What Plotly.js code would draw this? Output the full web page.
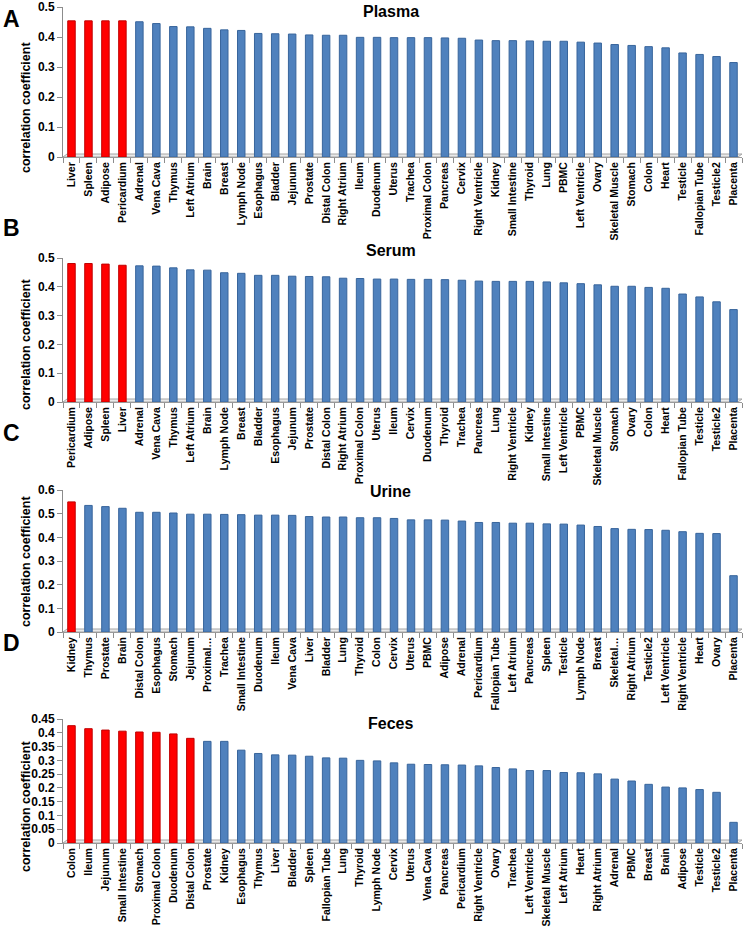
<!DOCTYPE html>
<html>
<head>
<meta charset="utf-8">
<script src="https://cdn.plot.ly/plotly-3.0.1.min.js"></script>
<style>
html,body{margin:0;padding:0;background:#fff;}
#chart{width:747px;height:937px;}
</style>
</head>
<body>
<div id="chart"></div>
<script>
// ---------- DATA ----------
const plasmaTissues = ["Liver","Spleen","Adipose","Pericardium","Adrenal","Vena Cava","Thymus","Left Atrium","Brain","Breast","Lymph Node","Esophagus","Bladder","Jejunum","Prostate","Distal Colon","Right Atrium","Ileum","Duodenum","Uterus","Trachea","Proximal Colon","Pancreas","Cervix","Right Ventricle","Kidney","Small Intestine","Thyroid","Lung","PBMC","Left Ventricle","Ovary","Skeletal Muscle","Stomach","Colon","Heart","Testicle","Fallopian Tube","Testicle2","Placenta"];
const plasmaValues = [0.454,0.454,0.454,0.454,0.451,0.445,0.435,0.434,0.429,0.424,0.422,0.412,0.411,0.410,0.407,0.406,0.406,0.399,0.399,0.398,0.398,0.398,0.397,0.396,0.390,0.388,0.388,0.387,0.386,0.386,0.383,0.380,0.375,0.372,0.368,0.364,0.347,0.342,0.335,0.315];
const plasmaHighlighted = 4;

const serumTissues = ["Pericardium","Adipose","Spleen","Liver","Adrenal","Vena Cava","Thymus","Left Atrium","Brain","Lymph Node","Breast","Bladder","Esophagus","Jejunum","Prostate","Distal Colon","Right Atrium","Proximal Colon","Uterus","Ileum","Cervix","Duodenum","Thyroid","Trachea","Pancreas","Lung","Right Ventricle","Kidney","Small Intestine","Left Ventricle","PBMC","Skeletal Muscle","Stomach","Ovary","Colon","Heart","Fallopian Tube","Testicle","Testicle2","Placenta"];
const serumValues = [0.481,0.481,0.479,0.475,0.473,0.472,0.466,0.459,0.458,0.449,0.447,0.440,0.440,0.437,0.436,0.435,0.430,0.429,0.427,0.427,0.426,0.426,0.425,0.423,0.420,0.419,0.419,0.419,0.417,0.414,0.411,0.407,0.402,0.402,0.398,0.395,0.375,0.365,0.348,0.321];
const serumHighlighted = 4;

const urineTissues = ["Kidney","Thymus","Prostate","Brain","Distal Colon","Esophagus","Stomach","Jejunum","Proximal\u2026","Trachea","Small Intestine","Duodenum","Ileum","Vena Cava","Liver","Bladder","Lung","Thyroid","Colon","Cervix","Uterus","PBMC","Adipose","Adrenal","Pericardium","Fallopian Tube","Left Atrium","Pancreas","Spleen","Testicle","Lymph Node","Breast","Skeletal\u2026","Right Atrium","Testicle2","Left Ventricle","Right Ventricle","Heart","Ovary","Placenta"];
const urineValues = [0.550,0.535,0.530,0.523,0.506,0.506,0.503,0.498,0.498,0.497,0.496,0.494,0.494,0.493,0.488,0.486,0.486,0.483,0.483,0.480,0.474,0.474,0.473,0.469,0.463,0.463,0.460,0.460,0.457,0.456,0.452,0.446,0.437,0.434,0.433,0.430,0.424,0.417,0.416,0.238];
const urineHighlighted = 1;

const fecesTissues = ["Colon","Ileum","Jejunum","Small Intestine","Stomach","Proximal Colon","Duodenum","Distal Colon","Prostate","Kidney","Esophagus","Thymus","Liver","Bladder","Spleen","Fallopian Tube","Lung","Thyroid","Lymph Node","Cervix","Uterus","Vena Cava","Pancreas","Pericardium","Right Ventricle","Ovary","Trachea","Left Ventricle","Skeletal Muscle","Left Atrium","Heart","Right Atrium","Adrenal","PBMC","Breast","Brain","Adipose","Testicle","Testicle2","Placenta"];
const fecesValues = [0.426,0.415,0.410,0.406,0.403,0.402,0.396,0.380,0.369,0.369,0.337,0.325,0.320,0.319,0.315,0.309,0.308,0.300,0.298,0.291,0.286,0.285,0.284,0.283,0.280,0.274,0.269,0.263,0.263,0.256,0.255,0.251,0.232,0.225,0.213,0.203,0.200,0.194,0.184,0.075];
const fecesHighlighted = 8;

const panelLetters = ["A","B","C","D"];
const panelTitles = ["Plasma","Serum","Urine","Feces"];
const yAxisTitle = "correlation coefficient";

// ---------- STYLE / LAYOUT ----------
const W = 747, H = 937;
const FONT = "Liberation Sans, Arial, Helvetica, sans-serif";
const RED = "#ff0000", RED_EDGE = "#c00000";
const BLUE = "#4f81bd", BLUE_EDGE = "#38659c";

const panels = [
  {names: plasmaTissues, vals: plasmaValues, hl: plasmaHighlighted, top: 7,   bottom: 157, max: 0.5,  dtick: 0.1,  letterY: 19,  titleY: 12,  ytitleY: 108},
  {names: serumTissues,  vals: serumValues,  hl: serumHighlighted,  top: 258, bottom: 402, max: 0.5,  dtick: 0.1,  letterY: 228, titleY: 251, ytitleY: 345},
  {names: urineTissues,  vals: urineValues,  hl: urineHighlighted,  top: 490, bottom: 632, max: 0.6,  dtick: 0.1,  letterY: 433, titleY: 492, ytitleY: 562},
  {names: fecesTissues,  vals: fecesValues,  hl: fecesHighlighted,  top: 719, bottom: 843, max: 0.45, dtick: 0.05, letterY: 643, titleY: 723, ytitleY: 807}
];

const xDomain = [63/W, 742/W];
const traces = [];
const layout = {
  width: W, height: H,
  margin: {l: 0, r: 0, t: 0, b: 0, autoexpand: false},
  paper_bgcolor: "#fff", plot_bgcolor: "rgba(0,0,0,0)",
  showlegend: false,
  font: {family: FONT, color: "#000"},
  bargap: 0.56,
  annotations: [], shapes: []
};

panels.forEach((p, i) => {
  const k = i === 0 ? "" : String(i + 1);
  const xa = "x" + k, ya = "y" + k;
  const colors = p.vals.map((v, j) => j < p.hl ? RED : BLUE);
  const edges = p.vals.map((v, j) => j < p.hl ? RED_EDGE : BLUE_EDGE);
  traces.push({
    type: "bar", x: p.names, y: p.vals, xaxis: xa, yaxis: ya,
    marker: {color: colors, line: {color: edges, width: 1}},
    hoverinfo: "x+y"
  });
  layout["xaxis" + k] = {
    domain: xDomain, anchor: ya, type: "category",
    range: [-0.5, p.names.length - 0.5],
    tickangle: -90, ticks: "outside", tickson: "boundaries", ticklen: 5,
    tickcolor: "#8c8c8c", tickwidth: 1,
    showline: true, linecolor: "#9a9a9a", linewidth: 1,
    showgrid: false, zeroline: false, fixedrange: true,
    tickfont: {family: FONT, size: 10.5, color: "#000", weight: 700},
    ticklabeloverflow: "allow",
    automargin: false
  };
  layout["yaxis" + k] = {
    domain: [1 - p.bottom / H, 1 - p.top / H], anchor: xa,
    range: [0, p.max * 1.0004], dtick: p.dtick, tick0: 0,
    ticks: "outside", ticklen: 5, tickcolor: "#8c8c8c",
    showline: true, linecolor: "#8c8c8c", linewidth: 1,
    showgrid: false, zeroline: false, fixedrange: true,
    tickfont: {family: FONT, size: 12, color: "#000", weight: 700},
    ticklabeloverflow: "allow",
    automargin: false
  };
  // floor of the 3D-style chart
  layout.shapes.push({
    type: "path", xref: "paper", yref: ya, ysizemode: "pixel", yanchor: 0,
    path: `M ${63/W},0 L ${67/W},3 L ${742/W},3 L ${738/W},0 Z`,
    fillcolor: "#e9e9e9", line: {color: "#a6a6a6", width: 1}, layer: "below"
  });
  layout.annotations.push({
    text: "<b>" + panelLetters[i] + "</b>", xref: "paper", yref: "paper",
    x: 1 / W, y: 1 - p.letterY / H, xanchor: "left", yanchor: "middle",
    showarrow: false, font: {family: FONT, size: 23, color: "#000"}
  });
  layout.annotations.push({
    text: "<b>" + panelTitles[i] + "</b>", xref: "paper", yref: "paper",
    x: 391 / W, y: 1 - p.titleY / H, xanchor: "center", yanchor: "middle",
    showarrow: false, font: {family: FONT, size: 16, color: "#000"}
  });
  layout.annotations.push({
    text: "<b>" + yAxisTitle + "</b>", xref: "paper", yref: "paper",
    x: 26 / W, y: 1 - p.ytitleY / H, xanchor: "center", yanchor: "middle",
    textangle: -90, showarrow: false, font: {family: FONT, size: 12.5, color: "#000"}
  });
});

Plotly.newPlot("chart", traces, layout, {displayModeBar: false, staticPlot: true});
</script>
</body>
</html>
